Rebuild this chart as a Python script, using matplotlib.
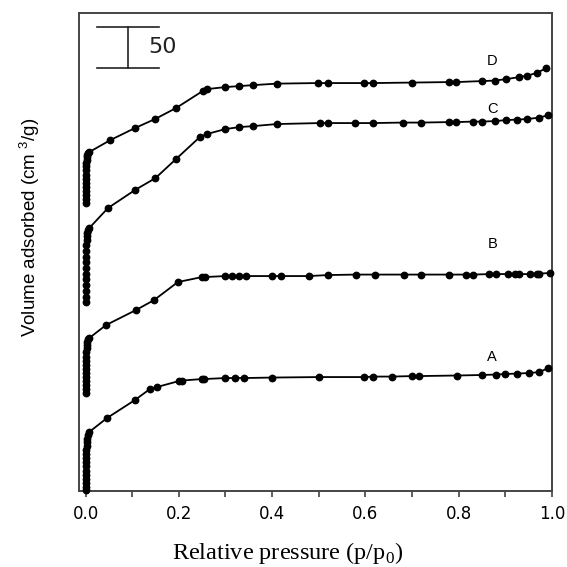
import matplotlib
matplotlib.use("Agg")
import matplotlib.pyplot as plt
from matplotlib.ticker import MultipleLocator

plt.rcParams['mathtext.fontset'] = 'custom'
plt.rcParams['mathtext.rm'] = 'Liberation Serif'
plt.rcParams['mathtext.sf'] = 'Liberation Sans'

# low-pressure points (shared p grid for the steep start of every isotherm)
low_p = [0.0001, 0.0002, 0.0003, 0.0004, 0.0005, 0.0006, 0.0008, 0.001,
         0.0012, 0.0015, 0.002, 0.0025, 0.003, 0.004, 0.006, 0.008]

# relative pressure / volume adsorbed (arbitrary offset units, scale bar = 50)
A_p = low_p + [0.046, 0.106, 0.138, 0.153, 0.200, 0.206, 0.250, 0.255, 0.300, 0.320,
               0.340, 0.400, 0.500, 0.598, 0.616, 0.658, 0.700, 0.716, 0.796, 0.849,
               0.881, 0.900, 0.926, 0.951, 0.973, 0.992]
A_v = [1.0, 5, 10, 15, 20, 25, 30, 35, 40, 45, 50, 55, 60, 64, 68, 72.0,
       89.0, 111.0, 124.4, 126.8, 134.1, 134.7, 136.6, 136.6, 137.8, 137.8,
       137.8, 138.4, 139.0, 139.0, 139.6, 139.6, 140.2, 140.2, 140.9, 141.5,
       142.1, 142.7, 143.3, 143.9, 145.1, 150.0]

B_p = low_p + [0.044, 0.108, 0.147, 0.198, 0.250, 0.256, 0.300, 0.315, 0.330, 0.345,
               0.400, 0.420, 0.479, 0.519, 0.579, 0.620, 0.682, 0.720, 0.780, 0.816,
               0.830, 0.866, 0.881, 0.905, 0.920, 0.930, 0.952, 0.967, 0.973, 0.995]
B_v = [119.5, 124, 129, 134, 139, 144, 149, 154, 159, 164, 169, 174, 178, 182, 185, 186.6,
       202.4, 220.7, 232.9, 254.9, 261.0, 261.0, 262.2, 262.2, 262.2, 262.2,
       262.2, 262.2, 262.2, 263.4, 264.0, 264.0, 264.0, 264.0, 264.0, 264.0,
       264.0, 264.6, 264.6, 264.6, 264.6, 264.6, 264.6, 265.2, 265.2, 265.9]

C_p = low_p + [0.048, 0.106, 0.150, 0.194, 0.245, 0.260, 0.300, 0.330, 0.360, 0.410,
               0.502, 0.519, 0.577, 0.616, 0.680, 0.720, 0.780, 0.795, 0.830, 0.849,
               0.877, 0.902, 0.926, 0.947, 0.973, 0.992]
C_v = [230.5, 237, 244, 251, 258, 265, 272, 279, 286, 293, 300, 306, 311, 315, 318, 320.7,
       345.1, 367.1, 381.7, 404.9, 431.7, 435.4, 441.5, 443.9, 445.1, 447.6,
       448.8, 448.8, 448.8, 448.8, 449.4, 449.4, 450.0, 450.0, 450.6, 450.6,
       451.2, 452.4, 453.1, 453.7, 455.5, 458.5]

D_p = low_p + [0.053, 0.106, 0.149, 0.194, 0.251, 0.260, 0.300, 0.330, 0.360, 0.410,
               0.498, 0.519, 0.598, 0.616, 0.700, 0.780, 0.795, 0.849, 0.877, 0.902,
               0.930, 0.947, 0.967, 0.988]
D_v = [351.2, 356, 361, 366, 371, 376, 381, 386, 391, 396, 400, 404, 407, 410, 412, 413.4,
       428.0, 442.7, 453.7, 467.1, 487.8, 490.2, 492.7, 493.9, 495.1, 496.9,
       497.6, 497.6, 497.6, 497.6, 498.2, 498.8, 498.8, 500.0, 500.6, 502.4,
       504.9, 506.7, 509.8, 515.9]

series = [("A", A_p, A_v, 163.4), ("B", B_p, B_v, 301.2),
          ("C", C_p, C_v, 465.9), ("D", D_p, D_v, 524.4)]
label_x = 0.872

x_ticks = [0.0, 0.2, 0.4, 0.6, 0.8, 1.0]
scale_value = 50      # size of the scale bar
scale_top = 566       # top of the scale bar, data units

fig = plt.figure(figsize=(5.67, 5.67), dpi=100)
ax = fig.add_axes([0.1393, 0.134, 0.8342, 0.843])

for name, p, v, ly in series:
    ax.plot(p, v, color='black', lw=1.3, marker='o', ms=4.6,
            mec='black', mfc='black', clip_on=False, zorder=3)
    ax.text(label_x, ly, name, fontsize=10.5, ha='center', va='center',
            family='Liberation Sans')

# scale bar
sx0, sx1, sxm = 0.025, 0.157, 0.091
ax.plot([sx0, sx1], [scale_top, scale_top], color='#222', lw=1.2)
ax.plot([sx0, sx1], [scale_top - scale_value, scale_top - scale_value], color='#222', lw=1.2)
ax.plot([sxm, sxm], [scale_top, scale_top - scale_value], color='#222', lw=1.2)
ax.text(0.135, scale_top - scale_value / 2, str(scale_value), fontsize=16,
        ha='left', va='center', family='DejaVu Sans', color='#222')

ax.set_xlim(-0.014, 1.0)
ax.set_ylim(0, 583)
ax.set_xticks(x_ticks)
ax.set_xticklabels([f"{t:.1f}" for t in x_ticks], family='DejaVu Sans', fontsize=12)
ax.xaxis.set_minor_locator(MultipleLocator(0.1))
ax.tick_params(axis='x', which='both', direction='out', length=4, width=1.1,
               color='#333', pad=6, top=False)
ax.set_yticks([])
for s in ax.spines.values():
    s.set_color('#444')
    s.set_linewidth(1.4)

fig.text(288 / 567, 1 - 553 / 567, 'Relative pressure (p/p$_\\mathrm{0}$)',
         family='Liberation Serif', fontsize=17.5, ha='center', va='center')
fig.text(30 / 567, 1 - 227 / 567, 'Volume adsorbed (cm $^\\mathsf{3}$/g)',
         family='Liberation Sans', fontsize=13.5, ha='center', va='center',
         rotation=90)

fig.savefig('out.png', dpi=100)
